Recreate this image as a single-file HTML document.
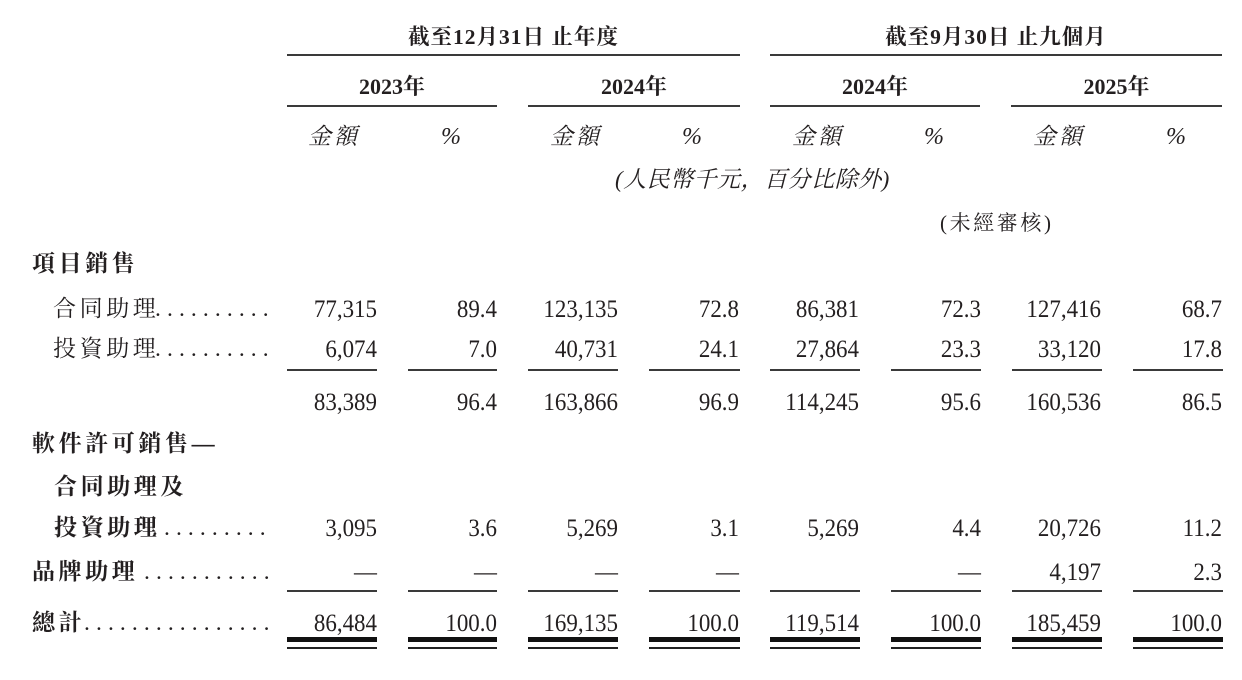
<!DOCTYPE html>
<html><head><meta charset="utf-8">
<style>
html,body{margin:0;padding:0}
body{width:1242px;height:680px;background:#fff;position:relative;overflow:hidden;font-family:"Liberation Serif","Noto Serif CJK SC",serif;color:#231f20}
.a{position:absolute;white-space:nowrap;line-height:30px;height:30px}
.n{font-size:25.5px;text-align:right;width:140px;transform:scaleX(0.9);transform-origin:right center}
.l{position:absolute;background:#3a3a3a;height:1.5px}
.k{position:absolute;background:#111;height:5px}
.t{position:absolute;background:#222;height:2px}
.lab{font-size:23px;letter-spacing:3.6px}
.b{font-weight:700}
.d{font-size:23.5px;letter-spacing:6.1px}
.h{font-size:21.5px;font-weight:700;letter-spacing:1px;text-align:center}
.it{font-style:italic}
.pc{font-size:24px;font-style:italic;width:40px;text-align:right}
</style></head><body>

<!-- Header group titles -->
<div class="a h" style="left:287px;width:453px;top:22px">截至12月31日 止年度</div>
<div class="a h" style="left:770px;width:452px;top:22px">截至9月30日 止九個月</div>
<div class="l" style="left:287px;width:453px;top:54px"></div>
<div class="l" style="left:770px;width:452px;top:54px"></div>

<!-- Years -->
<div class="a h" style="left:287px;width:210px;top:72px;font-size:22px;letter-spacing:0">2023年</div>
<div class="a h" style="left:528px;width:212px;top:72px;font-size:22px;letter-spacing:0">2024年</div>
<div class="a h" style="left:770px;width:210px;top:72px;font-size:22px;letter-spacing:0">2024年</div>
<div class="a h" style="left:1011px;width:211px;top:72px;font-size:22px;letter-spacing:0">2025年</div>
<div class="l" style="left:287px;width:210px;top:105px"></div>
<div class="l" style="left:528px;width:212px;top:105px"></div>
<div class="l" style="left:770px;width:210px;top:105px"></div>
<div class="l" style="left:1011px;width:211px;top:105px"></div>

<!-- 金額 / % -->
<div class="a it" style="left:308px;top:122px;font-size:23px;letter-spacing:3px">金額</div>
<div class="a it" style="left:550px;top:122px;font-size:23px;letter-spacing:3px">金額</div>
<div class="a it" style="left:792px;top:122px;font-size:23px;letter-spacing:3px">金額</div>
<div class="a it" style="left:1033px;top:122px;font-size:23px;letter-spacing:3px">金額</div>
<div class="a pc" style="left:421px;top:122px">%</div>
<div class="a pc" style="left:662px;top:122px">%</div>
<div class="a pc" style="left:904px;top:122px">%</div>
<div class="a pc" style="left:1146px;top:122px">%</div>

<div class="a it" style="left:615px;top:165px;font-size:23px;letter-spacing:0.5px">(人民幣千元，百分比除外)</div>
<div class="a" style="left:940px;top:208px;font-size:21px;letter-spacing:2.6px">(未經審核)</div>

<!-- Labels -->
<div class="a lab b" style="left:32px;top:249px">項目銷售</div>
<div class="a lab" style="left:53px;top:294px">合同助理</div>
<div class="a d" style="left:155px;top:294px">..........</div>
<div class="a lab" style="left:53px;top:334px">投資助理</div>
<div class="a d" style="left:155px;top:334px">..........</div>
<div class="a lab b" style="left:32px;top:429px">軟件許可銷售—</div>
<div class="a lab b" style="left:54px;top:472px">合同助理及</div>
<div class="a lab b" style="left:54px;top:513px">投資助理</div>
<div class="a d" style="left:152px;top:513px">..........</div>
<div class="a lab b" style="left:32px;top:557px">品牌助理</div>
<div class="a d" style="left:144px;top:557px">...........</div>
<div class="a lab b" style="left:32px;top:608px">總計</div>
<div class="a d" style="left:84px;top:608px">................</div>

<!-- Row: 合同助理 -->
<div class="a n" style="left:237px;top:294px">77,315</div>
<div class="a n" style="left:357px;top:294px">89.4</div>
<div class="a n" style="left:478px;top:294px">123,135</div>
<div class="a n" style="left:599px;top:294px">72.8</div>
<div class="a n" style="left:719px;top:294px">86,381</div>
<div class="a n" style="left:841px;top:294px">72.3</div>
<div class="a n" style="left:961px;top:294px">127,416</div>
<div class="a n" style="left:1082px;top:294px">68.7</div>

<!-- Row: 投資助理 -->
<div class="a n" style="left:237px;top:334px">6,074</div>
<div class="a n" style="left:357px;top:334px">7.0</div>
<div class="a n" style="left:478px;top:334px">40,731</div>
<div class="a n" style="left:599px;top:334px">24.1</div>
<div class="a n" style="left:719px;top:334px">27,864</div>
<div class="a n" style="left:841px;top:334px">23.3</div>
<div class="a n" style="left:961px;top:334px">33,120</div>
<div class="a n" style="left:1082px;top:334px">17.8</div>

<!-- underline 1 -->
<div class="l" style="left:287px;width:90px;top:369px"></div>
<div class="l" style="left:408px;width:89px;top:369px"></div>
<div class="l" style="left:528px;width:90px;top:369px"></div>
<div class="l" style="left:649px;width:91px;top:369px"></div>
<div class="l" style="left:770px;width:90px;top:369px"></div>
<div class="l" style="left:891px;width:90px;top:369px"></div>
<div class="l" style="left:1012px;width:90px;top:369px"></div>
<div class="l" style="left:1133px;width:90px;top:369px"></div>

<!-- subtotal -->
<div class="a n" style="left:237px;top:387px">83,389</div>
<div class="a n" style="left:357px;top:387px">96.4</div>
<div class="a n" style="left:478px;top:387px">163,866</div>
<div class="a n" style="left:599px;top:387px">96.9</div>
<div class="a n" style="left:719px;top:387px">114,245</div>
<div class="a n" style="left:841px;top:387px">95.6</div>
<div class="a n" style="left:961px;top:387px">160,536</div>
<div class="a n" style="left:1082px;top:387px">86.5</div>

<!-- software license row -->
<div class="a n" style="left:237px;top:513px">3,095</div>
<div class="a n" style="left:357px;top:513px">3.6</div>
<div class="a n" style="left:478px;top:513px">5,269</div>
<div class="a n" style="left:599px;top:513px">3.1</div>
<div class="a n" style="left:719px;top:513px">5,269</div>
<div class="a n" style="left:841px;top:513px">4.4</div>
<div class="a n" style="left:961px;top:513px">20,726</div>
<div class="a n" style="left:1082px;top:513px">11.2</div>

<!-- brand row -->
<div class="a n" style="left:237px;top:557px">—</div>
<div class="a n" style="left:357px;top:557px">—</div>
<div class="a n" style="left:478px;top:557px">—</div>
<div class="a n" style="left:599px;top:557px">—</div>
<div class="a n" style="left:841px;top:557px">—</div>
<div class="a n" style="left:961px;top:557px">4,197</div>
<div class="a n" style="left:1082px;top:557px">2.3</div>

<!-- underline 2 -->
<div class="l" style="left:287px;width:90px;top:590px"></div>
<div class="l" style="left:408px;width:89px;top:590px"></div>
<div class="l" style="left:528px;width:90px;top:590px"></div>
<div class="l" style="left:649px;width:91px;top:590px"></div>
<div class="l" style="left:770px;width:90px;top:590px"></div>
<div class="l" style="left:891px;width:90px;top:590px"></div>
<div class="l" style="left:1012px;width:90px;top:590px"></div>
<div class="l" style="left:1133px;width:90px;top:590px"></div>

<!-- total -->
<div class="a n" style="left:237px;top:608px">86,484</div>
<div class="a n" style="left:357px;top:608px">100.0</div>
<div class="a n" style="left:478px;top:608px">169,135</div>
<div class="a n" style="left:599px;top:608px">100.0</div>
<div class="a n" style="left:719px;top:608px">119,514</div>
<div class="a n" style="left:841px;top:608px">100.0</div>
<div class="a n" style="left:961px;top:608px">185,459</div>
<div class="a n" style="left:1082px;top:608px">100.0</div>

<!-- double underline -->
<div class="k" style="left:287px;width:90px;top:637px"></div>
<div class="k" style="left:408px;width:89px;top:637px"></div>
<div class="k" style="left:528px;width:90px;top:637px"></div>
<div class="k" style="left:649px;width:91px;top:637px"></div>
<div class="k" style="left:770px;width:90px;top:637px"></div>
<div class="k" style="left:891px;width:90px;top:637px"></div>
<div class="k" style="left:1012px;width:90px;top:637px"></div>
<div class="k" style="left:1133px;width:90px;top:637px"></div>
<div class="t" style="left:287px;width:90px;top:647px"></div>
<div class="t" style="left:408px;width:89px;top:647px"></div>
<div class="t" style="left:528px;width:90px;top:647px"></div>
<div class="t" style="left:649px;width:91px;top:647px"></div>
<div class="t" style="left:770px;width:90px;top:647px"></div>
<div class="t" style="left:891px;width:90px;top:647px"></div>
<div class="t" style="left:1012px;width:90px;top:647px"></div>
<div class="t" style="left:1133px;width:90px;top:647px"></div>

</body></html>
